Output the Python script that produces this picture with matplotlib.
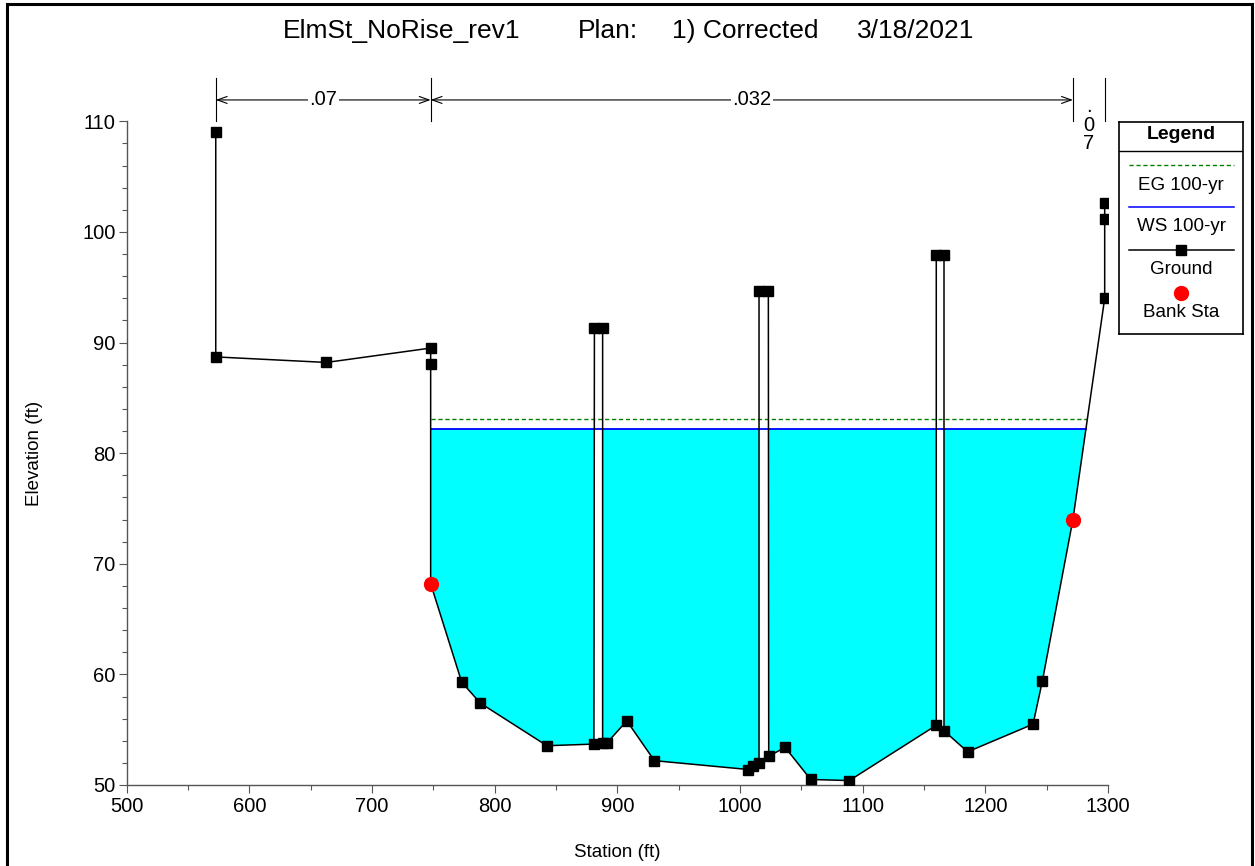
import numpy as np
import matplotlib
matplotlib.use('Agg')
import matplotlib.pyplot as plt
from matplotlib.ticker import MultipleLocator
from matplotlib.patches import Rectangle

plt.rcParams['font.family'] = ['Liberation Sans', 'DejaVu Sans']

# ground profile (station ft, elevation ft)
station = [572.6, 572.6, 662.8, 747.8, 747.8, 747.8, 773.1, 788.3, 842.6, 880.9,
           881.3, 888.0, 888.0, 891.5, 907.7, 930.2, 1006.8, 1010.9, 1015.5, 1015.5,
           1023.1, 1023.4, 1036.8, 1057.6, 1089.1, 1160.0, 1160.0, 1166.3, 1166.3, 1185.6,
           1238.9, 1246.5, 1271.4, 1297.3, 1297.3, 1297.3]
elev = [109.0, 88.7, 88.2, 89.5, 88.1, 68.2, 59.3, 57.4, 53.55, 53.7,
        91.3, 91.3, 53.8, 53.8, 55.8, 52.2, 51.4, 51.7, 52.0, 94.7,
        94.7, 52.6, 53.4, 50.5, 50.4, 55.4, 97.9, 97.9, 54.9, 53.0,
        55.5, 59.4, 74.0, 94.0, 101.2, 102.6]

bank_sta = [747.8, 1271.4]
bank_elev = [68.2, 74.0]

ws_100 = 82.2
eg_100 = 83.1

# manning's n regions
n_breaks = [572.6, 747.8, 1271.4, 1297.3]
n_values = ['.07', '.032', '.07']

title_parts = ['ElmSt_NoRise_rev1', 'Plan:', '1) Corrected', '3/18/2021']
title_x = [283, 578, 672, 857]   # pixel positions of each piece

x = np.array(station)
y = np.array(elev)

fig = plt.figure(figsize=(12.55, 8.66), dpi=100)
ax = fig.add_axes([126.7/1255, 1-785/866, (1108-126.7)/1255, (785-121.3)/866])

# water surface end on the right bank
rb = slice(31, 34)
ws_right = np.interp(ws_100, y[rb], x[rb])
eg_right = np.interp(eg_100, y[rb], x[rb])
ws_left = bank_sta[0]

ax.fill_between(x, y, ws_100, where=(y <= ws_100) & (x >= ws_left), interpolate=True,
                color='#00ffff', lw=0, zorder=1)
ax.plot([ws_left, ws_right], [ws_100, ws_100], color='#0000ff', lw=1.3, zorder=2)
ax.plot([ws_left, eg_right], [eg_100, eg_100], color='#008000', lw=1.0, ls=(0, (3, 2)), zorder=2)
ax.plot(x, y, color='black', lw=1.1, marker='s', ms=6.5, zorder=3)
ax.plot(bank_sta, bank_elev, 'o', color='#ff0000', ms=10, zorder=4)

ax.set_xlim(500, 1300)
ax.set_ylim(50, 110)
ax.xaxis.set_major_locator(MultipleLocator(100))
ax.xaxis.set_minor_locator(MultipleLocator(50))
ax.yaxis.set_major_locator(MultipleLocator(10))
ax.yaxis.set_minor_locator(MultipleLocator(2))
for s in ['top', 'right']:
    ax.spines[s].set_visible(False)
for s in ['left', 'bottom']:
    ax.spines[s].set_color('#555555')
    ax.spines[s].set_linewidth(1.0)
ax.tick_params(which='major', length=6, width=0.8, color='#555555', labelsize=14.5, pad=3)
ax.tick_params(which='minor', length=3.6, width=0.8, color='#555555')
ax.tick_params(axis='y', pad=2)
ax.set_xlabel('Station (ft)', fontsize=13.5, labelpad=20)
ax.set_ylabel('Elevation (ft)', fontsize=13.5, labelpad=28)

# n value brackets above the plot
bar_lo, bar_hi, arr_y = 110.0, 113.9, 111.93
for b in n_breaks:
    ax.plot([b, b], [bar_lo, bar_hi], color='black', lw=0.8, clip_on=False)
for i, nv in enumerate(n_values):
    x1, x2 = n_breaks[i], n_breaks[i + 1]
    mid = (x1 + x2) / 2
    if x2 - x1 > 60:
        ax.annotate('', xy=(x2, arr_y), xytext=(x1, arr_y), annotation_clip=False,
                    arrowprops=dict(arrowstyle='<->,head_length=0.7,head_width=0.25',
                                    lw=0.8, color='black', shrinkA=0, shrinkB=0))
        ax.text(mid, arr_y, nv, ha='center', va='center', fontsize=14.5,
                bbox=dict(fc='white', ec='none', pad=1))
    else:
        ax.text(mid, 109.65, '\n'.join(nv), ha='center', va='center', fontsize=14.5,
                linespacing=0.98)

for t, px in zip(title_parts, title_x):
    fig.text(px/1255, 1 - 31/866, t, ha='left', va='center', fontsize=19)

# legend box
lg = fig.add_axes([1119.3/1255, 1-334.2/866, 124/1255, (334.2-121.6)/866])
lg.set_xlim(0, 124)
lg.set_ylim(212.6, 0)
lg.set_xticks([])
lg.set_yticks([])
for s in lg.spines.values():
    s.set_linewidth(1.2)
lg.text(62, 13, 'Legend', ha='center', va='center', fontsize=14, fontweight='bold')
lg.plot([0, 124], [29.8, 29.8], color='black', lw=1.0)
lg.plot([10, 115], [43, 43], color='#008000', lw=1.0, ls=(0, (3, 2)))
lg.text(62, 64, 'EG 100-yr', ha='center', va='center', fontsize=13.5)
lg.plot([10, 115], [85.5, 85.5], color='#0000ff', lw=1.1)
lg.text(62, 105, 'WS 100-yr', ha='center', va='center', fontsize=13.5)
lg.plot([10, 115], [128.5, 128.5], color='black', lw=1.1)
lg.plot([62], [128.5], 's', color='black', ms=6.5)
lg.text(62, 148, 'Ground', ha='center', va='center', fontsize=13.5)
lg.plot([62], [171.5], 'o', color='#ff0000', ms=10)
lg.text(62, 191, 'Bank Sta', ha='center', va='center', fontsize=13.5)

# outer frame
fig.add_artist(Rectangle((7/1255, -0.1), (1252-7)/1255, 1.1 - 4/866, transform=fig.transFigure,
                         fill=False, lw=2.2, ec='black'))

fig.savefig('out.png', dpi=100)
